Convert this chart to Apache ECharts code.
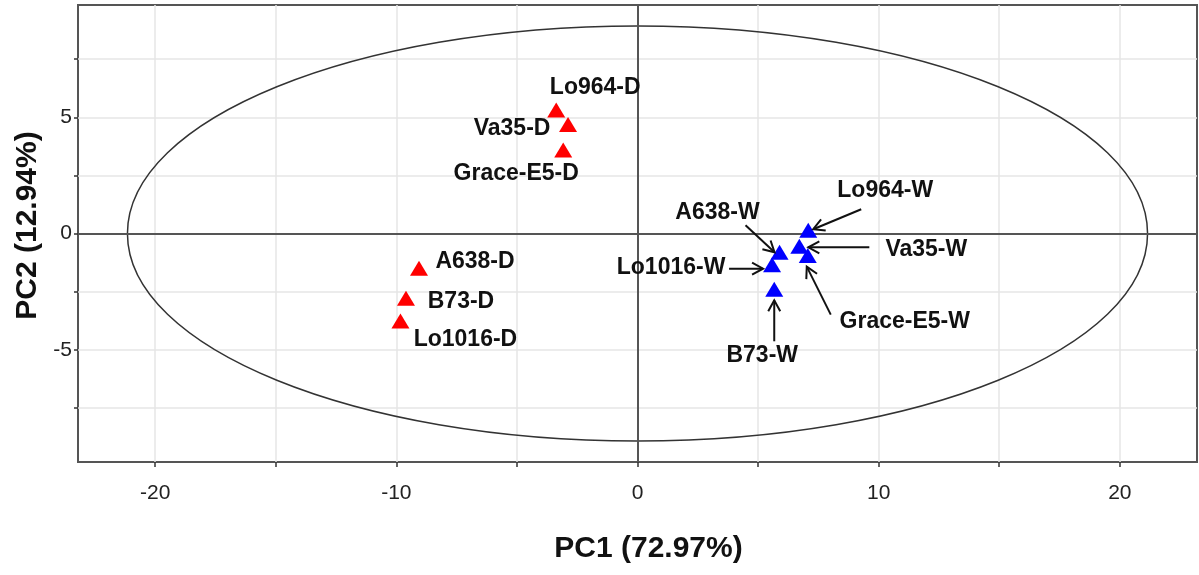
<!DOCTYPE html>
<html>
<head>
<meta charset="utf-8">
<title>PCA</title>
<script src="https://cdn.jsdelivr.net/npm/echarts@6/dist/echarts.min.js"></script>
<style>
  html, body { margin: 0; padding: 0; background: #fff; }
  #pcaChart { width: 1199px; height: 575px; }
</style>
</head>
<body>
<div id="pcaChart"></div>
<script>
// scores
const dryNames = ['Lo964-D', 'Va35-D', 'Grace-E5-D', 'A638-D', 'B73-D', 'Lo1016-D'];
const dryPC1 = [-3.37, -2.88, -3.08, -9.06, -9.60, -9.83];
const dryPC2 = [5.31, 4.69, 3.59, -1.50, -2.79, -3.76];

const wetNames = ['Lo964-W', 'Va35-W', 'Grace-E5-W', 'A638-W', 'Lo1016-W', 'B73-W'];
const wetPC1 = [7.08, 6.71, 7.06, 5.89, 5.58, 5.67];
const wetPC2 = [0.14, -0.55, -0.95, -0.81, -1.34, -2.40];

// Hotelling ellipse half axes
const ellipseRadii = [21.15, 8.93];

const pc1Ticks = [-20, -15, -10, -5, 0, 5, 10, 15, 20];
const pc1Labels = [-20, -10, 0, 10, 20];
const pc2Ticks = [-7.5, -5, -2.5, 0, 2.5, 5, 7.5];
const pc2Labels = [-5, 0, 5];

// label placement in pixels relative to the marker (style only)
const dryLabelOffset = [[39, -22], [-56, 4], [-47, 24], [56, -7], [55, 3], [65, 19]];
const wetLabelOffset = [[77, -40], [127, 3], [97, 66], [-62, -40], [-101, 3], [-12, 66]];
// arrow [startX, startY, endX, endY] relative to the marker
const wetArrows = [
  [53, -21, 5, -1],
  [70, 1, 9, 1],
  [23, 59, -1, 11],
  [-34, -27, -5, 0],
  [-43, 4, -9, 4],
  [0, 52, 0, 11]
];

const FONT = '"Liberation Sans", Arial, sans-serif';

let myChart = echarts.init(document.getElementById('pcaChart'));

function toPoints(xs, ys) {
  return xs.map((v, i) => [v, ys[i]]);
}

function labelRender(names, offsets, arrows) {
  return function (params, api) {
    const i = params.dataIndex;
    const p = api.coord([api.value(0), api.value(1)]);
    const children = [{
      type: 'text',
      style: {
        x: p[0] + offsets[i][0],
        y: p[1] + offsets[i][1],
        text: names[i],
        fill: '#111',
        font: 'bold 23px ' + FONT,
        align: 'center',
        verticalAlign: 'middle'
      }
    }];
    if (arrows) {
      const a = arrows[i];
      const sx = p[0] + a[0], sy = p[1] + a[1];
      const ex = p[0] + a[2], ey = p[1] + a[3];
      const len = Math.hypot(ex - sx, ey - sy);
      const ux = (ex - sx) / len, uy = (ey - sy) / len;
      const L = 11, W = 6;
      children.push({
        type: 'line',
        shape: {x1: sx, y1: sy, x2: ex, y2: ey},
        style: {stroke: '#111', lineWidth: 2}
      });
      children.push({
        type: 'polyline',
        shape: {points: [
          [ex - ux * L - uy * W, ey - uy * L + ux * W],
          [ex, ey],
          [ex - ux * L + uy * W, ey - uy * L - ux * W]
        ]},
        style: {stroke: '#111', lineWidth: 2, fill: 'none'}
      });
    }
    return {type: 'group', children: children};
  };
}

myChart.setOption({
  animation: false,
  grid: {
    left: 78,
    right: 2,
    top: 5,
    bottom: 113,
    show: true,
    borderColor: '#555',
    borderWidth: 2,
    backgroundColor: '#fff'
  },
  xAxis: {
    type: 'value',
    min: -23.2,
    max: 23.2,
    name: 'PC1 (72.97%)',
    nameLocation: 'middle',
    nameGap: 72,
    nameTextStyle: {
      fontFamily: FONT,
      fontWeight: 'bold',
      fontSize: 30,
      color: '#111',
      padding: [0, 0, 0, 22]
    },
    axisLine: {show: false, onZero: false},
    axisTick: {
      show: true,
      length: 5,
      customValues: pc1Ticks,
      lineStyle: {color: '#333', width: 1.5}
    },
    axisLabel: {
      customValues: pc1Labels,
      margin: 21,
      fontFamily: FONT,
      fontSize: 21,
      color: '#222'
    },
    splitLine: {
      show: true,
      lineStyle: {color: '#e6e6e6', width: 1.5}
    }
  },
  yAxis: {
    type: 'value',
    min: -9.83,
    max: 9.83,
    name: 'PC2 (12.94%)',
    nameLocation: 'middle',
    nameGap: 34,
    nameTextStyle: {
      fontFamily: FONT,
      fontWeight: 'bold',
      fontSize: 30,
      color: '#111',
      padding: [0, 0, 0, 16]
    },
    axisLine: {show: false, onZero: false},
    axisTick: {
      show: true,
      length: 4,
      customValues: pc2Ticks,
      lineStyle: {color: '#333', width: 1.5}
    },
    axisLabel: {
      customValues: pc2Labels,
      margin: 6,
      fontFamily: FONT,
      fontSize: 21,
      color: '#222'
    },
    splitLine: {
      show: true,
      lineStyle: {color: '#e6e6e6', width: 1.5}
    }
  },
  series: [
    {
      // confidence ellipse
      name: 'ellipse',
      type: 'custom',
      silent: true,
      z: 2,
      data: [[0, 0, ellipseRadii[0], ellipseRadii[1]]],
      renderItem: function (params, api) {
        const c = api.coord([api.value(0), api.value(1)]);
        const r = api.size([api.value(2), api.value(3)]);
        return {
          type: 'ellipse',
          shape: {cx: c[0], cy: c[1], rx: r[0], ry: r[1]},
          style: {fill: 'none', stroke: '#333', lineWidth: 1.5}
        };
      }
    },
    {
      name: 'D',
      type: 'scatter',
      z: 5,
      symbol: 'triangle',
      symbolSize: [18, 15],
      itemStyle: {color: '#ff0000', opacity: 1},
      data: toPoints(dryPC1, dryPC2),
      markLine: {
        silent: true,
        symbol: 'none',
        label: {show: false},
        lineStyle: {color: '#555', width: 2, type: 'solid'},
        data: [{xAxis: 0}, {yAxis: 0}]
      }
    },
    {
      name: 'W',
      type: 'scatter',
      z: 5,
      symbol: 'triangle',
      symbolSize: [18, 15],
      itemStyle: {color: '#0000ff', opacity: 1},
      data: toPoints(wetPC1, wetPC2)
    },
    {
      name: 'dryLabels',
      type: 'custom',
      silent: true,
      z: 6,
      data: toPoints(dryPC1, dryPC2),
      renderItem: labelRender(dryNames, dryLabelOffset, null)
    },
    {
      name: 'wetLabels',
      type: 'custom',
      silent: true,
      z: 6,
      data: toPoints(wetPC1, wetPC2),
      renderItem: labelRender(wetNames, wetLabelOffset, wetArrows)
    }
  ]
});
</script>
</body>
</html>
